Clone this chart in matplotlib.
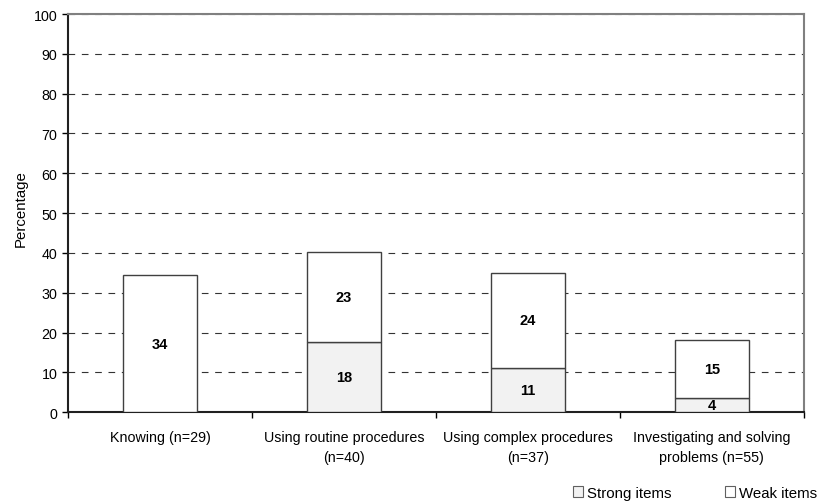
import matplotlib
matplotlib.use("Agg")
import matplotlib.pyplot as plt
from matplotlib.patches import Patch
from matplotlib.ticker import FixedLocator

categories = ["Knowing (n=29)", "Using routine procedures\n(n=40)",
              "Using complex procedures\n(n=37)", "Investigating and solving\nproblems (n=55)"]
strong = [0.0, 17.5, 11.1, 3.6]
weak = [34.4, 22.7, 23.9, 14.6]
series_names = ["Strong items", "Weak items"]

plt.rcParams["font.family"] = ["Liberation Sans", "DejaVu Sans"]

fig = plt.figure(figsize=(8.17, 5.02), dpi=100)
ax = fig.add_axes([0.0832, 0.177, 0.9008, 0.793])

x = list(range(len(categories)))
width = 0.4
strong_color = "#f2f2f2"
weak_color = "#ffffff"
edge = "#404040"

ax.bar(x, strong, width, color=strong_color, edgecolor=edge, linewidth=1.0, zorder=3)
ax.bar(x, weak, width, bottom=strong, color=weak_color, edgecolor=edge, linewidth=1.0, zorder=3)

for xi, s, w in zip(x, strong, weak):
    if s > 0:
        ax.text(xi, s / 2, f"{s:.0f}", ha="center", va="center",
                fontsize=10.5, fontweight="bold", zorder=4)
    if w > 0:
        ax.text(xi, s + w / 2, f"{w:.0f}", ha="center", va="center",
                fontsize=10.5, fontweight="bold", zorder=4)

ax.set_xlim(-0.5, len(categories) - 0.5)
ax.set_ylim(0, 100)
ax.set_yticks(range(0, 101, 10))
ax.tick_params(axis="y", labelsize=10.3, length=4, direction="out", width=1)
ax.set_xticks(x)
ax.set_xticklabels(categories, fontsize=10.3, linespacing=1.55)
ax.tick_params(axis="x", which="major", length=0, pad=13)
ax.xaxis.set_minor_locator(FixedLocator([i - 0.5 for i in range(len(categories) + 1)]))
ax.tick_params(axis="x", which="minor", length=4, width=1, direction="out")

ax.yaxis.grid(True, linestyle=(0, (6, 6)), color="#333333", linewidth=0.8, zorder=0)
ax.set_axisbelow(True)

ax.spines["left"].set_color("#202020")
ax.spines["left"].set_linewidth(1.5)
ax.spines["bottom"].set_color("#202020")
ax.spines["bottom"].set_linewidth(1.5)
ax.spines["top"].set_color("#808080")
ax.spines["top"].set_linewidth(1.5)
ax.spines["right"].set_color("#808080")
ax.spines["right"].set_linewidth(1.5)

ax.set_ylabel("Percentage", fontsize=10.8)
ax.yaxis.set_label_coords(-0.054, 0.515)

handles = [Patch(facecolor=strong_color, edgecolor="#606060", linewidth=0.8),
           Patch(facecolor=weak_color, edgecolor="#606060", linewidth=0.8)]
fig.legend(handles, series_names, loc="lower right", bbox_to_anchor=(1.0166, -0.024),
           ncol=2, frameon=False, fontsize=10.8, handlelength=0.7, handleheight=0.7,
           handletextpad=0.25, columnspacing=3.53)

fig.savefig("out.png", dpi=100)
